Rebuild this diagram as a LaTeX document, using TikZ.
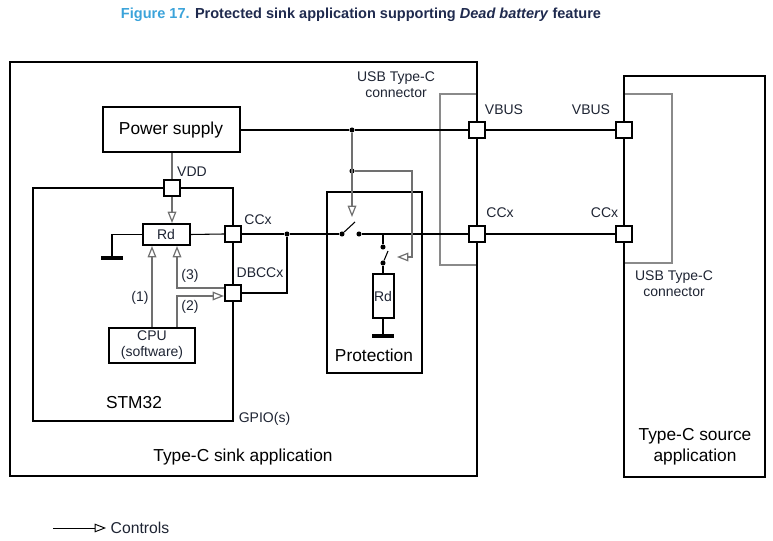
\documentclass[tikz,border=0pt]{standalone}
\usepackage{fontspec}
\setmainfont{Liberation Sans}
\usetikzlibrary{arrows.meta,calc}
\definecolor{figblue}{HTML}{3BA3DA}
\definecolor{navy}{HTML}{1F2A4E}
\definecolor{labcol}{HTML}{1E2433}
\definecolor{ctrlgrey}{HTML}{707070}
\definecolor{congrey}{HTML}{8A8A8A}
\begin{document}
\begin{tikzpicture}[x=0.75pt,y=-0.75pt,
  bigtxt/.style={font=\fontsize{13}{15.5}\selectfont, text=black},
  smalltxt/.style={font=\fontsize{10.5}{12}\selectfont, text=labcol},
  boxline/.style={draw=black, line width=1.5pt},
  conline/.style={draw=congrey, line width=1pt},
  wire/.style={draw=black, line width=0.8pt},
  ctrl/.style={draw=ctrlgrey, line width=0.9pt},
  ctrlarrow/.style={ctrl, -{Triangle[open, length=8.5pt, width=6.5pt]}},
  sqnode/.style={draw=black, line width=1.5pt, fill=white, minimum size=12pt, inner sep=0pt},
  blk/.style={draw=black, line width=1.5pt, fill=white, inner sep=0pt, align=center},
  jdot/.style={circle, fill=black, inner sep=0pt, minimum size=3.8pt},
  gndbar/.style={draw=black, line width=2.4pt}
]
\useasboundingbox (0,0) rectangle (773,541);

% title
\node[font=\fontsize{10.9}{13}\selectfont\bfseries, text=navy] (title) at (361,15)
  {{\color{figblue}Figure 17.} Protected sink application supporting \textit{Dead battery} feature};

% USB connectors (grey)
\draw[conline] (440,94) rectangle (477,265);
\draw[conline] (624,94) rectangle (672,263);

% main boxes
\draw[boxline] (10,62) rectangle (477,476);
\draw[boxline] (624,76) rectangle (765,477);
\draw[boxline] (33,188) rectangle (233,421);
\draw[boxline] (327,192) rectangle (422,373);

% labels of boxes
\node[bigtxt] (sinklab) at (243,457) {Type-C sink application};
\node[bigtxt, align=center] (srclab) at (695,447) {Type-C source\\application};
\node[bigtxt] (stmlab) at (134,403) {STM32};
\node[bigtxt] (protlab) at (374,355) {Protection};
\node[smalltxt] (gpiolab) at (264.5,419) {GPIO(s)};
\node[smalltxt, align=center] (conlabL) at (396,85) {USB Type-C\\connector};
\node[smalltxt, align=center] (conlabR) at (674,283.5) {USB Type-C\\connector};

% blocks
\node[blk, bigtxt, minimum width=102.75pt, minimum height=33.75pt] (ps) at (171,130) {Power supply};
\node[blk, smalltxt, minimum width=35.25pt, minimum height=15.75pt] (rd) at (166,234.5) {Rd};
\node[blk, smalltxt, minimum width=64.5pt, minimum height=26.25pt] (cpu) at (152,345.5) {CPU\\(software)};
\node[blk, smalltxt, minimum width=15.75pt, minimum height=33pt] (rdp) at (383,296) {Rd};

% pins
\node[sqnode] (vdd) at (172,188) {};
\node[sqnode] (ccs) at (233,234) {};
\node[sqnode] (dbcc) at (233,293) {};
\node[sqnode] (vbL) at (477,130) {};
\node[sqnode] (ccL) at (477,234) {};
\node[sqnode] (vbR) at (624,130) {};
\node[sqnode] (ccR) at (624,234) {};

% pin labels
\node[smalltxt] (vddlab) at (192,172) {VDD};
\node[smalltxt] (ccslab) at (258,220) {CCx};
\node[smalltxt] (dbcclab) at (260,273) {DBCCx};
\node[smalltxt] (vbLlab) at (504,110) {VBUS};
\node[smalltxt] (vbRlab) at (591,110) {VBUS};
\node[smalltxt] (ccLlab) at (500,213) {CCx};
\node[smalltxt] (ccRlab) at (604.5,213) {CCx};
\node[smalltxt] (l1) at (140,298) {(1)};
\node[smalltxt] (l2) at (190,307) {(2)};
\node[smalltxt] (l3) at (190,276) {(3)};

% junctions and contacts
\node[jdot] (j1) at (352,130) {};
\node[jdot] (j2) at (352,171) {};
\node[jdot] (j3) at (287,234) {};
\node[jdot] (s1a) at (342,234) {};
\node[jdot] (s1b) at (359,234) {};
\node[jdot] (s2a) at (383,247) {};
\node[jdot] (s2b) at (383,263) {};
\coordinate (s1t) at (355,222);
\coordinate (s2t) at (388,251);
\coordinate (t2) at (383,234);
\coordinate (db1) at (287,293);
\coordinate (gnd1) at (112,258);
\coordinate (gnd2) at (383,336);
\coordinate (s1c) at (352,217);
\coordinate (k1) at (412,171);
\coordinate (k2) at (412,257);
\coordinate (s2c) at (397,257);

% VBUS wire
\draw[wire] (ps.east) -- (j1) -- (vbL.west);
\draw[wire] (vbL.east) -- (vbR.west);
% CC wire
\draw[wire] (rd.east) -- (ccs.west);
\draw[wire] (ccs.east) -- (j3) -- (s1a);
\draw[wire] (s1a) -- (s1t);
\draw[wire] (s1b) -- (ccL.west);
\draw[wire] (ccL.east) -- (ccR.west);
\draw[wire] (dbcc.east) -- (db1) -- (j3);
% Rd to ground (STM32)
\draw[wire] (rd.west) -| (gnd1);
\draw[gndbar] ($(gnd1)+(-11,0)$) -- ($(gnd1)+(11,0)$);
% protection Rd branch
\draw[wire] (t2) -- (s2a);
\draw[wire] (s2b) -- (s2t);
\draw[wire] (s2b) -- (rdp.north);
\draw[wire] (rdp.south) -- (gnd2);
\draw[gndbar] ($(gnd2)+(-11,0)$) -- ($(gnd2)+(11,0)$);

% supply to VDD
\draw[ctrl] (ps.south -| vdd) -- (vdd.north);

% control arrows
\draw[ctrlarrow] (vdd.south) -- (vdd.south |- rd.north);
\draw[ctrlarrow] (cpu.north -| 152,0) -- (rd.south -| 152,0);
\draw[ctrlarrow] (cpu.north -| 177,0) -- (177,296) -- (dbcc.west |- 0,296);
\draw[ctrlarrow] (dbcc.west |- 0,288) -- (177,288) -- (rd.south -| 177,0);
\draw[ctrlarrow] (j1) -- (s1c);
\draw[ctrlarrow] (j2) -- (k1) -- (k2) -- (s2c);

% legend
\coordinate (lg1) at (53,528);
\node[font=\fontsize{11.8}{14}\selectfont, text=labcol, anchor=west] (lgtxt) at (106,528) {Controls};
\draw[draw=black, line width=0.7pt, -{Triangle[open, length=8.5pt, width=6.5pt]}] (lg1) -- (lgtxt.west);
\end{tikzpicture}
\end{document}
